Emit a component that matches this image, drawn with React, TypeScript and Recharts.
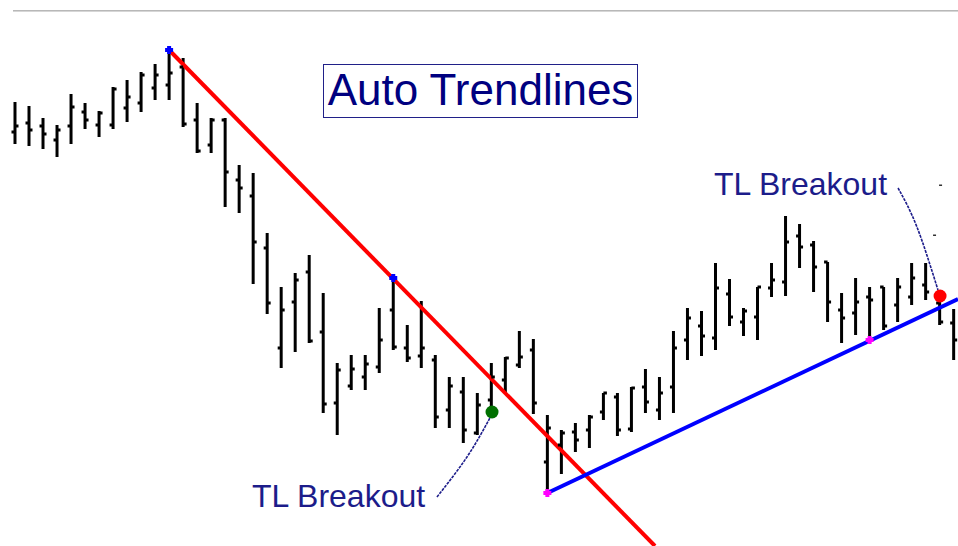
import { ComposedChart, Scatter, Line, ErrorBar, XAxis, YAxis, ReferenceDot } from "recharts";

// OHLC prices, one per session (index 0..67)
const highs = [
  44.4, 44.0, 42.8, 42.1, 45.2, 44.3, 43.5, 45.9, 46.6, 47.4, 48.2, 49.6, 48.8, 44.3, 42.8, 42.8, 38.1,
  37.3, 31.3, 25.9, 27.3, 29.1, 25.3, 18.3, 19.1, 19.1, 23.8, 26.8, 22.1, 24.5, 19.1, 16.9, 16.9, 15.3,
  18.3, 18.9, 21.5, 20.7, 13.1, 11.6, 12.3, 13.1, 15.3, 15.3, 15.9, 17.7, 16.9, 21.5, 23.8, 23.5, 28.3,
  26.7, 23.8, 25.9, 28.3, 33.0, 32.2, 30.5, 28.4, 25.3, 26.8, 25.9, 25.9, 26.8, 28.3, 28.3, 25.4, 23.7,
];
const lows = [
  40.2, 40.0, 39.7, 38.9, 40.2, 41.7, 40.9, 41.7, 42.4, 43.4, 44.6, 44.6, 41.9, 39.3, 39.3, 33.9, 33.3,
  26.2, 23.2, 17.8, 19.4, 20.3, 13.3, 11.1, 15.6, 15.6, 17.3, 19.6, 18.4, 17.8, 11.8, 11.8, 10.3, 11.1,
  13.8, 15.3, 17.8, 13.2, 5.3, 7.2, 9.4, 9.8, 12.6, 11.0, 11.4, 13.3, 12.6, 13.3, 18.6, 19.0, 19.6,
  22.0, 21.0, 20.6, 24.9, 25.0, 27.8, 25.4, 22.4, 20.3, 21.1, 20.6, 21.6, 22.4, 24.1, 24.6, 22.1, 18.6,
];
const opens = [
  41.4, 42.3, 42.0, 40.6, 42.0, 43.4, 42.1, 42.1, 43.8, 44.3, 45.8, 46.1, 47.9, 42.6, 40.1, 42.6, 36.6,
  35.0, 29.8, 19.8, 24.4, 27.4, 21.4, 14.3, 16.0, 16.9, 17.9, 23.6, 19.8, 19.0, 18.6, 13.6, 15.4, 11.3,
  14.6, 16.6, 18.1, 19.6, 8.4, 10.1, 11.4, 11.6, 13.4, 14.9, 11.7, 15.9, 13.6, 15.9, 20.6, 22.0, 20.8,
  25.2, 22.4, 22.9, 25.8, 26.4, 31.0, 30.1, 28.4, 23.6, 23.3, 24.9, 25.9, 24.1, 24.9, 26.1, 24.3, 22.3,
];
const closes = [
  42.0, 41.6, 41.2, 41.6, 43.9, 42.6, 43.3, 45.7, 44.9, 47.1, 47.1, 47.3, 42.2, 39.5, 42.6, 37.4, 35.8,
  30.4, 24.3, 23.6, 26.6, 20.5, 14.2, 17.6, 17.7, 18.2, 20.6, 19.9, 18.8, 19.8, 12.9, 16.0, 11.6, 14.1,
  16.9, 18.8, 18.9, 14.3, 11.8, 11.3, 10.6, 12.9, 15.3, 11.6, 15.8, 14.4, 15.3, 19.8, 22.8, 21.0, 25.8,
  22.9, 23.5, 25.9, 26.6, 30.4, 29.9, 27.9, 24.4, 22.8, 24.4, 24.6, 22.0, 25.9, 26.8, 25.4, 22.4, 20.6,
];

// trendlines: endpoints (session index, price)
const downTrend = [
  { x: 11, y: 49.6 },
  { x: 45.68, y: 0 },
];
const upTrend = [
  { x: 38, y: 5.3 },
  { x: 67.31, y: 24.7 },
];

const highPivots = [
  { x: 11, y: 49.6 },
  { x: 27, y: 26.8 },
];
const lowPivots = [
  { x: 38, y: 5.3 },
  { x: 61, y: 20.6 },
];
const breakoutUp = [{ x: 34.05, y: 13.4 }];
const breakoutDown = [{ x: 66.03, y: 25.0 }];

const lowerCallout = [
  { x: 30.12, y: 4.9 },
  { x: 32.26, y: 8.9 },
  { x: 33.9, y: 12.8 },
];
const upperCallout = [
  { x: 63.03, y: 35.8 },
  { x: 64.38, y: 31.9 },
  { x: 65.88, y: 25.6 },
];
const specks = [
  { x: 66.03, y: 36.1 },
  { x: 65.6, y: 31.1 },
];

const ranges = highs.map((h, i) => ({ x: i, y: lows[i], err: [0, h - lows[i]] }));
const openPts = opens.map((v, i) => ({ x: i, y: v }));
const closePts = closes.map((v, i) => ({ x: i, y: v }));

const NAVY = "#1c1c8a";
const FONT = '"Liberation Sans", Arial, sans-serif';

const Empty = () => <g />;
const OpenTick = (p: any) => (
  <line x1={p.cx - 3.5} x2={p.cx} y1={p.cy} y2={p.cy} stroke="#000" strokeWidth={3} />
);
const CloseTick = (p: any) => (
  <line x1={p.cx} x2={p.cx + 3.5} y1={p.cy} y2={p.cy} stroke="#000" strokeWidth={3} />
);
const plus = (color: string) => (p: any) => (
  <g fill={color}>
    <rect x={p.cx - 4} y={p.cy - 2} width={8} height={4} />
    <rect x={p.cx - 2} y={p.cy - 4} width={4} height={8} />
  </g>
);
const bigDot = (color: string) => (p: any) => <circle cx={p.cx} cy={p.cy} r={6.5} fill={color} />;
const Speck = (p: any) => <rect x={p.cx - 1} y={p.cy - 0.5} width={3} height={1.5} fill="#333" />;

const labelAt = (text: string) => ({ viewBox }: any) => (
  <text x={viewBox.x} y={viewBox.y} fontFamily={FONT} fontSize={32} fill={NAVY}>
    {text}
  </text>
);

export default function App() {
  return (
    <div style={{ position: "absolute", left: 0, top: 0, width: 958, height: 546, background: "#fff" }}>
      <div
        style={{
          position: "absolute",
          left: 13,
          top: 10,
          width: 945,
          height: 0,
          borderTop: "1px solid #b8b8b8",
          borderBottom: "1px solid #d6d6d6",
        }}
      />
      <div
        style={{
          position: "absolute",
          left: 323,
          top: 64,
          width: 315,
          height: 54,
          boxSizing: "border-box",
          border: "1.5px solid #202088",
          fontFamily: FONT,
          fontSize: 44,
          lineHeight: "50px",
          color: "#000080",
          textAlign: "center",
          whiteSpace: "nowrap",
        }}
      >
        Auto Trendlines
      </div>
      <ComposedChart width={958} height={546} margin={{ top: 0, right: 0, bottom: 0, left: 0 }}>
        <XAxis type="number" dataKey="x" domain={[-1.07, 67.31]} allowDataOverflow scale="linear" hide />
        <YAxis type="number" dataKey="y" domain={[0, 54.6]} allowDataOverflow scale="linear" hide />
        <Scatter data={ranges} shape={Empty} isAnimationActive={false}>
          <ErrorBar dataKey="err" direction="y" width={0} stroke="#000" strokeWidth={3} />
        </Scatter>
        <Scatter data={openPts} shape={OpenTick} isAnimationActive={false} />
        <Scatter data={closePts} shape={CloseTick} isAnimationActive={false} />
        <Line data={downTrend} dataKey="y" stroke="#ff0000" strokeWidth={4} dot={false} activeDot={false} isAnimationActive={false} />
        <Line data={upTrend} dataKey="y" stroke="#0000ff" strokeWidth={4} dot={false} activeDot={false} isAnimationActive={false} />
        <Line data={lowerCallout} dataKey="y" type="natural" stroke={NAVY} strokeWidth={1.6} strokeDasharray="3 1" dot={false} activeDot={false} isAnimationActive={false} />
        <Line data={upperCallout} dataKey="y" type="natural" stroke={NAVY} strokeWidth={1.6} strokeDasharray="3 1" dot={false} activeDot={false} isAnimationActive={false} />
        <Scatter data={highPivots} shape={plus("#0000ff")} isAnimationActive={false} />
        <Scatter data={lowPivots} shape={plus("#ff00ff")} isAnimationActive={false} />
        <Scatter data={breakoutUp} shape={bigDot("#007000")} isAnimationActive={false} />
        <Scatter data={breakoutDown} shape={bigDot("#ff0000")} isAnimationActive={false} />
        <Scatter data={specks} shape={Speck} isAnimationActive={false} />
        <ReferenceDot x={16.99} y={3.8} r={1} fill="none" stroke="none" label={{ content: labelAt("TL Breakout") }} />
        <ReferenceDot x={49.96} y={35.0} r={1} fill="none" stroke="none" label={{ content: labelAt("TL Breakout") }} />
      </ComposedChart>
    </div>
  );
}
